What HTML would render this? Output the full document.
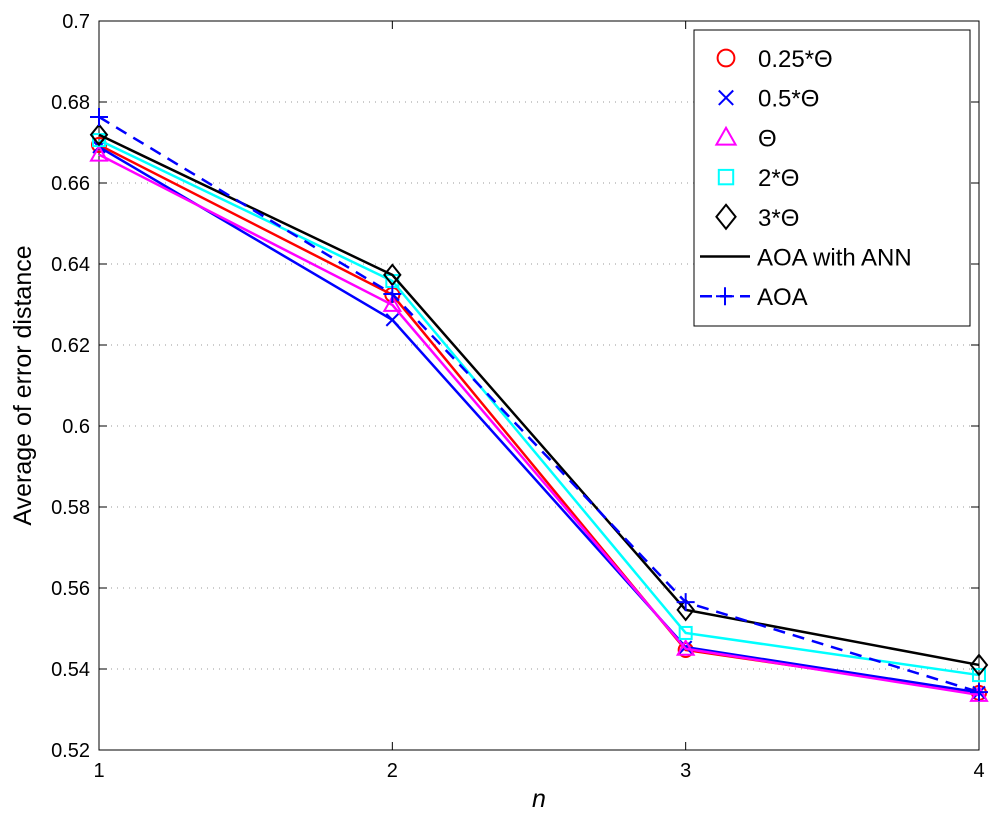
<!DOCTYPE html>
<html><head><meta charset="utf-8"><style>
body{margin:0;background:#fff}
svg text{font-family:"Liberation Sans",sans-serif}
</style></head><body>
<svg id="c" width="1000" height="818" xmlns="http://www.w3.org/2000/svg"></svg>
<script>
const categories=[1,2,3,4];
const yTicks=[0.52,0.54,0.56,0.58,0.6,0.62,0.64,0.66,0.68,0.7];
const yTickLabels=["0.52","0.54","0.56","0.58","0.6","0.62","0.64","0.66","0.68","0.7"];
const s025=[0.6694,0.6324,0.5447,0.5341];
const s05=[0.6689,0.6262,0.5454,0.5342];
const s1=[0.6670,0.6299,0.5450,0.5336];
const s2=[0.6706,0.6358,0.5489,0.5385];
const s3=[0.6719,0.6373,0.5546,0.5410];
const sAOA=[0.6763,0.6326,0.5565,0.5343];
const legendLabels=["0.25*Θ","0.5*Θ","Θ","2*Θ","3*Θ","AOA with ANN","AOA"];

const L=99,R=979,T=21,B=750;
const X=v=>L+(v-1)/3*(R-L);
const Y=v=>B-(v-0.52)/0.18*(B-T);
const svg=document.getElementById('c');
const NS="http://www.w3.org/2000/svg";
function mk(tag,at,parent){const e=document.createElementNS(NS,tag);for(const k in at)e.setAttribute(k,at[k]);(parent||svg).appendChild(e);return e;}

let g=mk('g',{});


yTicks.forEach((t,i)=>{
  if(i>0&&i<yTicks.length-1) mk('line',{x1:L,x2:R,y1:Y(t),y2:Y(t),stroke:'#999','stroke-dasharray':'1,5','stroke-width':1},g);
});
let ax=mk('rect',{x:L,y:T,width:R-L,height:B-T,fill:'none',stroke:'#000','stroke-width':1});


yTicks.forEach((t,i)=>{
  mk('line',{x1:L,x2:L+8,y1:Y(t),y2:Y(t),stroke:'#000'});
  mk('line',{x1:R,x2:R-8,y1:Y(t),y2:Y(t),stroke:'#000'});
  const tx=mk('text',{x:L-9,y:Y(t)+7,'text-anchor':'end','font-size':20});
  tx.textContent=yTickLabels[i];
  
  
});
categories.forEach(c=>{
  mk('line',{x1:X(c),x2:X(c),y1:B,y2:B-8,stroke:'#000'});
  mk('line',{x1:X(c),x2:X(c),y1:T,y2:T+8,stroke:'#000'});
  const tx=mk('text',{x:X(c),y:B+27,'text-anchor':'middle','font-size':20});
  tx.textContent=String(c);
  
  
});
let xt=mk('text',{x:X(2.5),y:807,'text-anchor':'middle','font-size':25,'font-style':'italic'});
xt.textContent='n';


let yt=mk('text',{x:0,y:0,'text-anchor':'middle','font-size':25,transform:'translate(31,'+((T+B)/2)+') rotate(-90)'});
yt.textContent='Average of error distance';



function marker(type,x,y,col,p,k){
  k=k||1;
  if(type==='o') mk('circle',{cx:x,cy:y,r:7*k,fill:'none',stroke:col,'stroke-width':2},p);
  if(type==='x'){mk('path',{d:`M${x-6*k},${y-6*k}L${x+6*k},${y+6*k}M${x-6*k},${y+6*k}L${x+6*k},${y-6*k}`,stroke:col,'stroke-width':2},p);}
  if(type==='^') mk('path',{d:`M${x},${y-8*k}L${x+8*k},${y+6*k}L${x-8*k},${y+6*k}Z`,fill:'none',stroke:col,'stroke-width':2},p);
  if(type==='s') mk('rect',{x:x-6*k,y:y-6*k,width:12*k,height:12*k,fill:'none',stroke:col,'stroke-width':2},p);
  if(type==='d') mk('path',{d:`M${x},${y-10*k}L${x+8*k},${y}L${x},${y+10*k}L${x-8*k},${y}Z`,fill:'none',stroke:col,'stroke-width':2},p);
  if(type==='+'){mk('path',{d:`M${x-9*k},${y}L${x+9*k},${y}M${x},${y-9*k}L${x},${y+9*k}`,stroke:col,'stroke-width':2},p);}
}
const series=[
 {n:'series-0-25-theta',d:s025,c:'#ff0000',m:'o'},
 {n:'series-0-5-theta',d:s05,c:'#0000ff',m:'x'},
 {n:'series-theta',d:s1,c:'#ff00ff',m:'^'},
 {n:'series-2-theta',d:s2,c:'#00ffff',m:'s'},
 {n:'series-3-theta',d:s3,c:'#000000',m:'d'},
 {n:'series-aoa',d:sAOA,c:'#0000ff',m:'+',dash:'12,8'}
];
series.forEach(s=>{
  const sg=mk('g',{});
  
  
  const pts=s.d.map((v,i)=>X(categories[i])+','+Y(v)).join(' ');
  const pl=mk('polyline',{points:pts,fill:'none',stroke:s.c,'stroke-width':2.5},sg);
  if(s.dash) pl.setAttribute('stroke-dasharray',s.dash);
  s.d.forEach((v,i)=>marker(s.m,X(categories[i]),Y(v),s.c,sg));
});

const lg=mk('g',{});


mk('rect',{x:694,y:30,width:276,height:296,fill:'#fff',stroke:'#000','stroke-width':1},lg);
const lm=[['o','#ff0000'],['x','#0000ff'],['^','#ff00ff'],['s','#00ffff'],['d','#000000'],['line','#000'],['dash','#0000ff']];
legendLabels.forEach((lab,i)=>{
  const y=58+i*39.7;
  const eg=mk('g',{},lg);
  
  
  const [m,c]=lm[i];
  if(m==='line') mk('line',{x1:700,x2:750,y1:y,y2:y,stroke:c,'stroke-width':2.5},eg);
  else if(m==='dash'){mk('line',{x1:700,x2:750,y1:y,y2:y,stroke:c,'stroke-width':2.5,'stroke-dasharray':'12,8'},eg);marker('+',725,y,c,eg);}
  else marker(m,726,y,c,eg,1.2);
  const t=mk('text',{x:m==='line'||m==='dash'?757:758,y:y+9,'font-size':24},eg);
  t.textContent=lab;
});
</script>
</body></html>
